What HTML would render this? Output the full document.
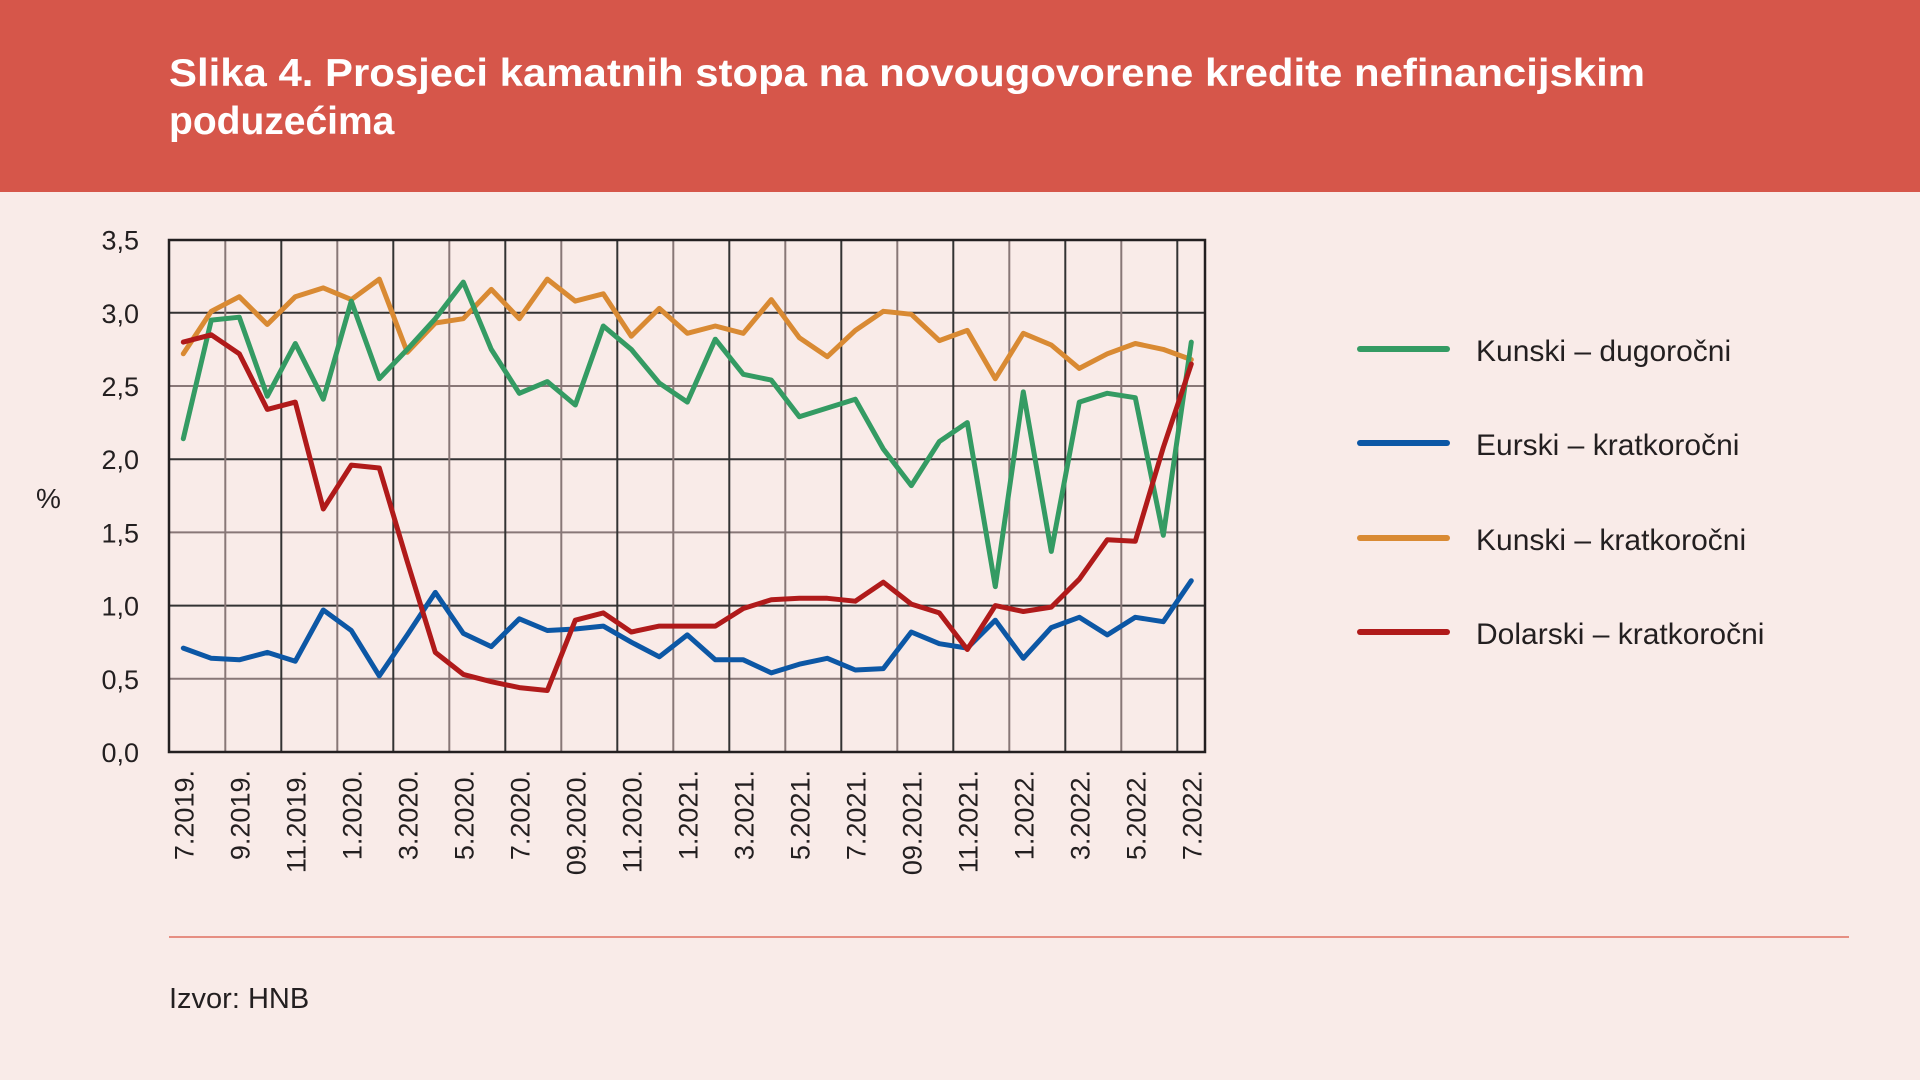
<!DOCTYPE html>
<html><head><meta charset="utf-8"><style>
html,body{margin:0;padding:0;background:#F9EBE8;}
svg{display:block}
text{font-family:"Liberation Sans Narrow","Liberation Sans",sans-serif;fill:#231f20}
</style></head><body>
<svg id="s" width="1920" height="1080" viewBox="0 0 1920 1080" xmlns="http://www.w3.org/2000/svg">
<rect width="1920" height="1080" fill="#F9EBE8"/>
<rect width="1920" height="192" fill="#D6564A"/>
<text x="169" y="86" textLength="1476" lengthAdjust="spacingAndGlyphs" style="font-family:'Liberation Sans',sans-serif;font-weight:bold;font-size:39px;fill:#fff">Slika 4. Prosjeci kamatnih stopa na novougovorene kredite nefinancijskim</text>
<text x="169" y="134" style="font-family:'Liberation Sans',sans-serif;font-weight:bold;font-size:39px;fill:#fff">poduzećima</text>
<g id="grid"></g>
<g id="series" fill="none" stroke-width="5" stroke-linejoin="round" stroke-linecap="round"></g>
<rect x="169" y="240" width="1036" height="512" fill="none" stroke="#231f20" stroke-width="2.5"/>
<g id="lab" font-size="27"></g>
<text x="36" y="508" font-size="28">%</text>
<g stroke-width="6" stroke-linecap="round">
<line x1="1360" y1="349" x2="1447" y2="349" stroke="#349B63"/>
<line x1="1360" y1="443" x2="1447" y2="443" stroke="#0C57A5"/>
<line x1="1360" y1="538" x2="1447" y2="538" stroke="#D98A33"/>
<line x1="1360" y1="632" x2="1447" y2="632" stroke="#B01A1A"/>
</g>
<g font-size="30">
<text x="1476" y="361">Kunski – dugoročni</text>
<text x="1476" y="455">Eurski – kratkoročni</text>
<text x="1476" y="550">Kunski – kratkoročni</text>
<text x="1476" y="644">Dolarski – kratkoročni</text>
</g>
<line x1="169" y1="937" x2="1849" y2="937" stroke="#E07060" stroke-width="1.5"/>
<text x="169" y="1008" style="font-family:'Liberation Sans',sans-serif;font-size:29px">Izvor: HNB</text>
</svg>
<script>
var NS="http://www.w3.org/2000/svg",s=document.getElementById('s');
function X(i){return 183.3+28*i}function Y(v){return 752-146.4*v}
function el(t,a,p,txt){var e=document.createElementNS(NS,t);for(var k in a)e.setAttribute(k,a[k]);if(txt)e.textContent=txt;document.getElementById(p).appendChild(e);return e}
for(var k=1;k<7;k++){el('line',{x1:169,x2:1205,y1:Y(k*0.5),y2:Y(k*0.5),stroke:k%2?'#877':'#333','stroke-width':2},'grid')}
for(var i=1.5;i<36;i+=2){el('line',{x1:X(i),x2:X(i),y1:240,y2:752,stroke:(i%4==1.5)?'#877':'#333','stroke-width':2},'grid')}
var D={
'#D98A33':[2.72,3.01,3.11,2.92,3.11,3.17,3.09,3.23,2.73,2.93,2.96,3.16,2.96,3.23,3.08,3.13,2.84,3.03,2.86,2.91,2.86,3.09,2.83,2.70,2.88,3.01,2.99,2.81,2.88,2.55,2.86,2.78,2.62,2.72,2.79,2.75,2.68],
'#349B63':[2.14,2.95,2.97,2.43,2.79,2.41,3.08,2.55,2.75,2.96,3.21,2.75,2.45,2.53,2.37,2.91,2.75,2.52,2.39,2.82,2.58,2.54,2.29,2.35,2.41,2.07,1.82,2.12,2.25,1.13,2.46,1.37,2.39,2.45,2.42,1.48,2.80],
'#0C57A5':[0.71,0.64,0.63,0.68,0.62,0.97,0.83,0.52,0.80,1.09,0.81,0.72,0.91,0.83,0.84,0.86,0.75,0.65,0.80,0.63,0.63,0.54,0.60,0.64,0.56,0.57,0.82,0.74,0.71,0.90,0.64,0.85,0.92,0.80,0.92,0.89,1.17],
'#B01A1A':[2.80,2.85,2.72,2.34,2.39,1.66,1.96,1.94,1.30,0.68,0.53,0.48,0.44,0.42,0.90,0.95,0.82,0.86,0.86,0.86,0.98,1.04,1.05,1.05,1.03,1.16,1.01,0.95,0.70,1.00,0.96,0.99,1.18,1.45,1.44,2.08,2.65]};
for(var c in D){el('polyline',{stroke:c,points:D[c].map(function(v,i){return X(i).toFixed(1)+','+Y(v).toFixed(1)}).join(' ')},'series')}
var yl=['0,0','0,5','1,0','1,5','2,0','2,5','3,0','3,5'];
yl.forEach(function(t,k){el('text',{x:139,y:Y(k*0.5)+10,'text-anchor':'end'},'lab',t)});
var xl=['7.2019.','9.2019.','11.2019.','1.2020.','3.2020.','5.2020.','7.2020.','09.2020.','11.2020.','1.2021.','3.2021.','5.2021.','7.2021.','09.2021.','11.2021.','1.2022.','3.2022.','5.2022.','7.2022.'];
xl.forEach(function(t,k){var x=X(2*k)+10;el('text',{x:x,y:770,'text-anchor':'end',transform:'rotate(-90 '+x+' 770)'},'lab',t)});
</script>
</body></html>
